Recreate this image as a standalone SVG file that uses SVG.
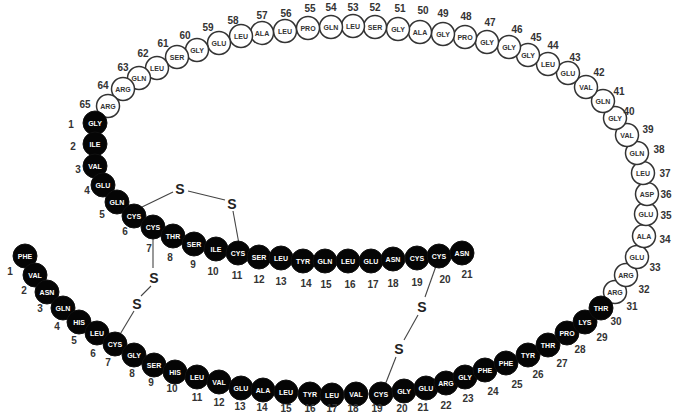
<svg xmlns="http://www.w3.org/2000/svg" width="673" height="414" viewBox="0 0 673 414">
<style>
.b circle{fill:#050505;stroke:#111;stroke-width:1}
.b text.r{fill:#fff;font:bold 7px "Liberation Sans",Arial,sans-serif;text-anchor:middle;dominant-baseline:central}
.w circle{fill:#fff;stroke:#333;stroke-width:1.5}
.w text.r{fill:#333;font:bold 7px "Liberation Sans",Arial,sans-serif;text-anchor:middle;dominant-baseline:central}
text.n{fill:#333;font:bold 10px "Liberation Sans",Arial,sans-serif;text-anchor:middle;dominant-baseline:central}
text.s{fill:#222;font:bold 14px "Liberation Sans",Arial,sans-serif;text-anchor:middle;dominant-baseline:central}
.c line{stroke:#444;stroke-width:1.1}
</style>
<rect width="673" height="414" fill="#fff"/>
<g class="c" id="connectors">
<line x1="142" y1="207" x2="173" y2="192"/>
<line x1="188" y1="191" x2="225" y2="200"/>
<line x1="233" y1="211" x2="239" y2="244"/>
<line x1="153" y1="238" x2="153" y2="268"/>
<line x1="151" y1="286" x2="141" y2="296"/>
<line x1="134" y1="311" x2="119" y2="336"/>
<line x1="436" y1="266" x2="425" y2="297"/>
<line x1="418" y1="315" x2="404" y2="340"/>
<line x1="396" y1="357" x2="385" y2="385"/>
<text class="s" x="180" y="189">S</text>
<text class="s" x="232" y="204">S</text>
<text class="s" x="154" y="278">S</text>
<text class="s" x="137" y="304">S</text>
<text class="s" x="422" y="307">S</text>
<text class="s" x="399" y="349">S</text>
</g>
<g id="cpeptide">
<g class="w" id="c31"><circle cx="615" cy="292" r="11.5"/><text class="r" x="615" y="292">ARG</text><text class="n" x="632" y="306">31</text></g>
<g class="w" id="c32"><circle cx="626" cy="275" r="11.5"/><text class="r" x="626" y="275">ARG</text><text class="n" x="644" y="289">32</text></g>
<g class="w" id="c33"><circle cx="637" cy="257" r="11.5"/><text class="r" x="637" y="257">GLU</text><text class="n" x="655" y="267">33</text></g>
<g class="w" id="c34"><circle cx="644" cy="236" r="11.5"/><text class="r" x="644" y="236">ALA</text><text class="n" x="665" y="239">34</text></g>
<g class="w" id="c35"><circle cx="646" cy="214" r="11.5"/><text class="r" x="646" y="214">GLU</text><text class="n" x="666" y="215">35</text></g>
<g class="w" id="c36"><circle cx="647" cy="194" r="11.5"/><text class="r" x="647" y="194">ASP</text><text class="n" x="666" y="194">36</text></g>
<g class="w" id="c37"><circle cx="643" cy="173" r="11.5"/><text class="r" x="643" y="173">LEU</text><text class="n" x="665" y="173">37</text></g>
<g class="w" id="c38"><circle cx="637" cy="153" r="11.5"/><text class="r" x="637" y="153">GLN</text><text class="n" x="659" y="149">38</text></g>
<g class="w" id="c39"><circle cx="627" cy="135" r="11.5"/><text class="r" x="627" y="135">VAL</text><text class="n" x="648" y="129">39</text></g>
<g class="w" id="c40"><circle cx="615" cy="118" r="11.5"/><text class="r" x="615" y="118">GLY</text><text class="n" x="629" y="111">40</text></g>
<g class="w" id="c41"><circle cx="603" cy="101" r="11.5"/><text class="r" x="603" y="101">GLN</text><text class="n" x="619" y="91">41</text></g>
<g class="w" id="c42"><circle cx="586" cy="87" r="11.5"/><text class="r" x="586" y="87">VAL</text><text class="n" x="599" y="72">42</text></g>
<g class="w" id="c43"><circle cx="568" cy="73" r="11.5"/><text class="r" x="568" y="73">GLU</text><text class="n" x="575" y="57">43</text></g>
<g class="w" id="c44"><circle cx="548" cy="64" r="11.5"/><text class="r" x="548" y="64">LEU</text><text class="n" x="553" y="45">44</text></g>
<g class="w" id="c45"><circle cx="528" cy="55" r="11.5"/><text class="r" x="528" y="55">GLY</text><text class="n" x="536" y="37">45</text></g>
<g class="w" id="c46"><circle cx="509" cy="47" r="11.5"/><text class="r" x="509" y="47">GLY</text><text class="n" x="517" y="29">46</text></g>
<g class="w" id="c47"><circle cx="487" cy="42" r="11.5"/><text class="r" x="487" y="42">GLY</text><text class="n" x="490" y="22">47</text></g>
<g class="w" id="c48"><circle cx="465" cy="37" r="11.5"/><text class="r" x="465" y="37">PRO</text><text class="n" x="466" y="16">48</text></g>
<g class="w" id="c49"><circle cx="443" cy="34" r="11.5"/><text class="r" x="443" y="34">GLY</text><text class="n" x="443" y="13">49</text></g>
<g class="w" id="c50"><circle cx="420" cy="32" r="11.5"/><text class="r" x="420" y="32">ALA</text><text class="n" x="423" y="10">50</text></g>
<g class="w" id="c51"><circle cx="398" cy="29" r="11.5"/><text class="r" x="398" y="29">GLY</text><text class="n" x="400" y="8">51</text></g>
<g class="w" id="c52"><circle cx="375" cy="27" r="11.5"/><text class="r" x="375" y="27">SER</text><text class="n" x="375" y="7">52</text></g>
<g class="w" id="c53"><circle cx="353" cy="26" r="11.5"/><text class="r" x="353" y="26">LEU</text><text class="n" x="353" y="7">53</text></g>
<g class="w" id="c54"><circle cx="331" cy="27" r="11.5"/><text class="r" x="331" y="27">GLN</text><text class="n" x="331" y="7">54</text></g>
<g class="w" id="c55"><circle cx="308" cy="28" r="11.5"/><text class="r" x="308" y="28">PRO</text><text class="n" x="310" y="8">55</text></g>
<g class="w" id="c56"><circle cx="285" cy="31" r="11.5"/><text class="r" x="285" y="31">LEU</text><text class="n" x="286" y="13">56</text></g>
<g class="w" id="c57"><circle cx="262" cy="33" r="11.5"/><text class="r" x="262" y="33">ALA</text><text class="n" x="262" y="15">57</text></g>
<g class="w" id="c58"><circle cx="241" cy="36" r="11.5"/><text class="r" x="241" y="36">LEU</text><text class="n" x="233" y="20">58</text></g>
<g class="w" id="c59"><circle cx="219" cy="43" r="11.5"/><text class="r" x="219" y="43">GLU</text><text class="n" x="208" y="27">59</text></g>
<g class="w" id="c60"><circle cx="197" cy="50" r="11.5"/><text class="r" x="197" y="50">GLY</text><text class="n" x="185" y="35">60</text></g>
<g class="w" id="c61"><circle cx="177" cy="57" r="11.5"/><text class="r" x="177" y="57">SER</text><text class="n" x="163" y="43">61</text></g>
<g class="w" id="c62"><circle cx="157" cy="68" r="11.5"/><text class="r" x="157" y="68">LEU</text><text class="n" x="143" y="53">62</text></g>
<g class="w" id="c63"><circle cx="139" cy="78" r="11.5"/><text class="r" x="139" y="78">GLN</text><text class="n" x="123" y="67">63</text></g>
<g class="w" id="c64"><circle cx="123" cy="89" r="11.5"/><text class="r" x="123" y="89">ARG</text><text class="n" x="103" y="85">64</text></g>
<g class="w" id="c65"><circle cx="108" cy="106" r="11.5"/><text class="r" x="108" y="106">ARG</text><text class="n" x="85" y="104">65</text></g>
</g>
<g id="achain">
<g class="b" id="a1"><circle cx="95" cy="123" r="12"/><text class="r" x="95" y="123">GLY</text><text class="n" x="71" y="124">1</text></g>
<g class="b" id="a2"><circle cx="95" cy="144" r="12"/><text class="r" x="95" y="144">ILE</text><text class="n" x="73" y="146">2</text></g>
<g class="b" id="a3"><circle cx="95" cy="166" r="12"/><text class="r" x="95" y="166">VAL</text><text class="n" x="78" y="169">3</text></g>
<g class="b" id="a4"><circle cx="103" cy="185" r="12"/><text class="r" x="103" y="185">GLU</text><text class="n" x="87" y="190">4</text></g>
<g class="b" id="a5"><circle cx="117" cy="202" r="12"/><text class="r" x="117" y="202">GLN</text><text class="n" x="102" y="214">5</text></g>
<g class="b" id="a6"><circle cx="134" cy="216" r="12"/><text class="r" x="134" y="216">CYS</text><text class="n" x="125" y="231">6</text></g>
<g class="b" id="a7"><circle cx="153" cy="227" r="12"/><text class="r" x="153" y="227">CYS</text><text class="n" x="149" y="248">7</text></g>
<g class="b" id="a8"><circle cx="173" cy="236" r="12"/><text class="r" x="173" y="236">THR</text><text class="n" x="170" y="257">8</text></g>
<g class="b" id="a9"><circle cx="194" cy="244" r="12"/><text class="r" x="194" y="244">SER</text><text class="n" x="193" y="264">9</text></g>
<g class="b" id="a10"><circle cx="216" cy="249" r="12"/><text class="r" x="216" y="249">ILE</text><text class="n" x="213" y="271">10</text></g>
<g class="b" id="a11"><circle cx="238" cy="253" r="12"/><text class="r" x="238" y="253">CYS</text><text class="n" x="237" y="275">11</text></g>
<g class="b" id="a12"><circle cx="259" cy="257" r="12"/><text class="r" x="259" y="257">SER</text><text class="n" x="259" y="279">12</text></g>
<g class="b" id="a13"><circle cx="281" cy="258" r="12"/><text class="r" x="281" y="258">LEU</text><text class="n" x="281" y="281">13</text></g>
<g class="b" id="a14"><circle cx="303" cy="261" r="12"/><text class="r" x="303" y="261">TYR</text><text class="n" x="306" y="283">14</text></g>
<g class="b" id="a15"><circle cx="325" cy="261" r="12"/><text class="r" x="325" y="261">GLN</text><text class="n" x="326" y="284">15</text></g>
<g class="b" id="a16"><circle cx="348" cy="261" r="12"/><text class="r" x="348" y="261">LEU</text><text class="n" x="350" y="284">16</text></g>
<g class="b" id="a17"><circle cx="371" cy="261" r="12"/><text class="r" x="371" y="261">GLU</text><text class="n" x="373" y="284">17</text></g>
<g class="b" id="a18"><circle cx="393" cy="259" r="12"/><text class="r" x="393" y="259">ASN</text><text class="n" x="393" y="283">18</text></g>
<g class="b" id="a19"><circle cx="417" cy="258" r="12"/><text class="r" x="417" y="258">CYS</text><text class="n" x="417" y="282">19</text></g>
<g class="b" id="a20"><circle cx="439" cy="256" r="12"/><text class="r" x="439" y="256">CYS</text><text class="n" x="445" y="279">20</text></g>
<g class="b" id="a21"><circle cx="462" cy="253" r="12"/><text class="r" x="462" y="253">ASN</text><text class="n" x="467" y="274">21</text></g>
</g>
<g id="bchain">
<g class="b" id="b1"><circle cx="25" cy="256" r="12"/><text class="r" x="25" y="256">PHE</text><text class="n" x="10" y="271">1</text></g>
<g class="b" id="b2"><circle cx="35" cy="275" r="12"/><text class="r" x="35" y="275">VAL</text><text class="n" x="24" y="290">2</text></g>
<g class="b" id="b3"><circle cx="47" cy="292" r="12"/><text class="r" x="47" y="292">ASN</text><text class="n" x="40" y="308">3</text></g>
<g class="b" id="b4"><circle cx="63" cy="308" r="12"/><text class="r" x="63" y="308">GLN</text><text class="n" x="57" y="326">4</text></g>
<g class="b" id="b5"><circle cx="79" cy="322" r="12"/><text class="r" x="79" y="322">HIS</text><text class="n" x="74" y="340">5</text></g>
<g class="b" id="b6"><circle cx="97" cy="333" r="12"/><text class="r" x="97" y="333">LEU</text><text class="n" x="93" y="353">6</text></g>
<g class="b" id="b7"><circle cx="115" cy="344" r="12"/><text class="r" x="115" y="344">CYS</text><text class="n" x="108" y="362">7</text></g>
<g class="b" id="b8"><circle cx="134" cy="355" r="12"/><text class="r" x="134" y="355">GLY</text><text class="n" x="132" y="373">8</text></g>
<g class="b" id="b9"><circle cx="154" cy="365" r="12"/><text class="r" x="154" y="365">SER</text><text class="n" x="151" y="382">9</text></g>
<g class="b" id="b10"><circle cx="175" cy="372" r="12"/><text class="r" x="175" y="372">HIS</text><text class="n" x="172" y="388">10</text></g>
<g class="b" id="b11"><circle cx="197" cy="377" r="12"/><text class="r" x="197" y="377">LEU</text><text class="n" x="197" y="397">11</text></g>
<g class="b" id="b12"><circle cx="219" cy="382" r="12"/><text class="r" x="219" y="382">VAL</text><text class="n" x="219" y="402">12</text></g>
<g class="b" id="b13"><circle cx="241" cy="388" r="12"/><text class="r" x="241" y="388">GLU</text><text class="n" x="240" y="406">13</text></g>
<g class="b" id="b14"><circle cx="263" cy="390" r="12"/><text class="r" x="263" y="390">ALA</text><text class="n" x="262" y="407">14</text></g>
<g class="b" id="b15"><circle cx="286" cy="392" r="12"/><text class="r" x="286" y="392">LEU</text><text class="n" x="286" y="408">15</text></g>
<g class="b" id="b16"><circle cx="310" cy="394" r="12"/><text class="r" x="310" y="394">TYR</text><text class="n" x="310" y="408">16</text></g>
<g class="b" id="b17"><circle cx="332" cy="395" r="12"/><text class="r" x="332" y="395">LEU</text><text class="n" x="332" y="408">17</text></g>
<g class="b" id="b18"><circle cx="356" cy="394" r="12"/><text class="r" x="356" y="394">VAL</text><text class="n" x="353" y="408">18</text></g>
<g class="b" id="b19"><circle cx="381" cy="394" r="12"/><text class="r" x="381" y="394">CYS</text><text class="n" x="377" y="408">19</text></g>
<g class="b" id="b20"><circle cx="404" cy="391" r="12"/><text class="r" x="404" y="391">GLY</text><text class="n" x="402" y="408">20</text></g>
<g class="b" id="b21"><circle cx="426" cy="388" r="12"/><text class="r" x="426" y="388">GLU</text><text class="n" x="423" y="407">21</text></g>
<g class="b" id="b22"><circle cx="446" cy="383" r="12"/><text class="r" x="446" y="383">ARG</text><text class="n" x="446" y="405">22</text></g>
<g class="b" id="b23"><circle cx="465" cy="377" r="12"/><text class="r" x="465" y="377">GLY</text><text class="n" x="468" y="398">23</text></g>
<g class="b" id="b24"><circle cx="485" cy="370" r="12"/><text class="r" x="485" y="370">PHE</text><text class="n" x="493" y="391">24</text></g>
<g class="b" id="b25"><circle cx="506" cy="363" r="12"/><text class="r" x="506" y="363">PHE</text><text class="n" x="517" y="384">25</text></g>
<g class="b" id="b26"><circle cx="528" cy="355" r="12"/><text class="r" x="528" y="355">TYR</text><text class="n" x="538" y="374">26</text></g>
<g class="b" id="b27"><circle cx="548" cy="345" r="12"/><text class="r" x="548" y="345">THR</text><text class="n" x="562" y="363">27</text></g>
<g class="b" id="b28"><circle cx="567" cy="333" r="12"/><text class="r" x="567" y="333">PRO</text><text class="n" x="580" y="349">28</text></g>
<g class="b" id="b29"><circle cx="585" cy="322" r="12"/><text class="r" x="585" y="322">LYS</text><text class="n" x="602" y="337">29</text></g>
<g class="b" id="b30"><circle cx="601" cy="308" r="12"/><text class="r" x="601" y="308">THR</text><text class="n" x="616" y="321">30</text></g>
</g>
</svg>
